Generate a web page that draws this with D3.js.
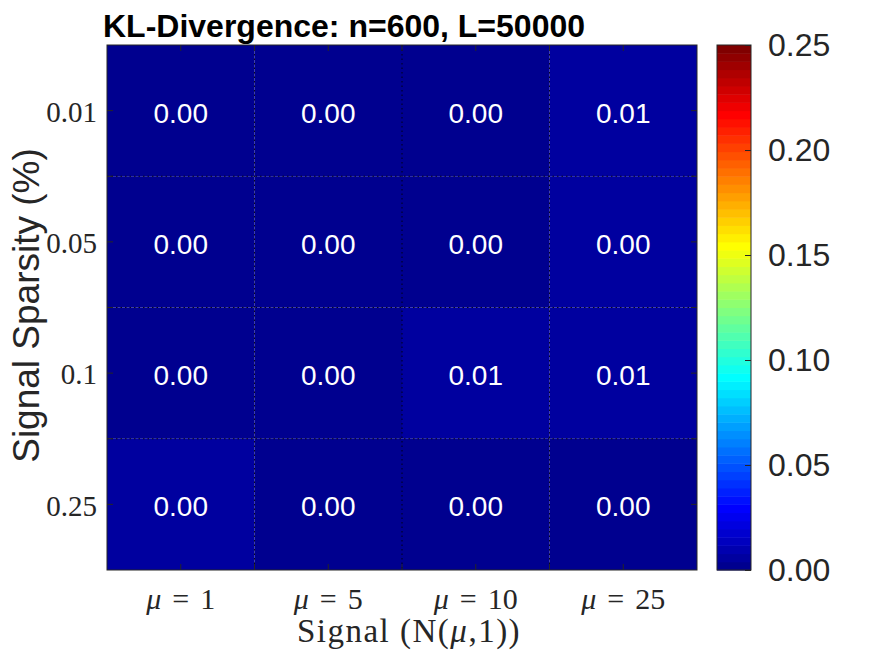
<html>
<head>
    <meta charset="utf-8">
    <style>
        body { margin: 0; background: white; }
        svg { display: block; }
    </style>
    <script src="https://d3js.org/d3.v7.min.js"></script>
</head>
<body>
<svg id="chart"></svg>
<script>
    // DATA
    let signalMu = ["1", "5", "10", "25"]
    let sparsity = ["0.01", "0.05", "0.1", "0.25"]
    // KL values per sparsity row (rows top to bottom), columns = signals
    let klRow001 = [0.002, 0.003, 0.002, 0.006]
    let klRow005 = [0.002, 0.002, 0.002, 0.004]
    let klRow01 = [0.002, 0.003, 0.007, 0.006]
    let klRow025 = [0.004, 0.002, 0.003, 0.003]
    let colorTicks = [0, 0.05, 0.10, 0.15, 0.20, 0.25]

    let rows = [klRow001, klRow005, klRow01, klRow025]
    let cells = []
    rows.forEach((r, i) => r.forEach((v, j) => cells.push({ row: sparsity[i], col: signalMu[j], value: v })))

    // MATLAB jet(64)
    function jetMap(m) {
        let n = Math.ceil(m / 4)
        let u = []
        for (let k = 1; k <= n; k++) u.push(k / n)
        for (let k = 1; k < n; k++) u.push(1)
        for (let k = n; k >= 1; k--) u.push(k / n)
        let off = Math.ceil(n / 2) - (m % 4 === 1 ? 1 : 0)
        let J = d3.range(m).map(() => [0, 0, 0])
        u.forEach((val, k) => {
            let g = off + k + 1
            let r = g + n
            let b = g - n
            if (g >= 1 && g <= m) J[g - 1][1] = val
            if (r >= 1 && r <= m) J[r - 1][0] = val
            if (b >= 1 && b <= m) J[b - 1][2] = val
        })
        return J.map(c => d3.rgb(c[0] * 255, c[1] * 255, c[2] * 255).formatHex())
    }
    let jet = jetMap(64)
    let cmin = 0, cmax = 0.25
    function colorFor(v) {
        let idx = Math.floor((v - cmin) / (cmax - cmin) * 64)
        idx = Math.max(0, Math.min(63, idx))
        return jet[idx]
    }

    let width = 875, height = 657
    let margin = { left: 107, top: 45, right: 697, bottom: 570 }
    let svg = d3.select("#chart").attr("width", width).attr("height", height)

    let x = d3.scaleBand().domain(signalMu).range([margin.left, margin.right])
    let y = d3.scaleBand().domain(sparsity).range([margin.top, margin.bottom])

    // cells
    svg.append("g").selectAll("rect")
        .data(cells)
        .enter().append("rect")
        .attr("x", d => x(d.col))
        .attr("y", d => y(d.row))
        .attr("width", x.bandwidth())
        .attr("height", y.bandwidth())
        .attr("fill", d => colorFor(d.value))

    // dotted grid at cell boundaries
    let grid = svg.append("g").attr("stroke", "#000").attr("stroke-width", 1)
        .attr("stroke-dasharray", "1.5,3").attr("opacity", 0.85)
    signalMu.slice(1).forEach(c => {
        grid.append("line").attr("x1", x(c)).attr("x2", x(c))
            .attr("y1", margin.top).attr("y2", margin.bottom)
    })
    sparsity.slice(1).forEach(r => {
        grid.append("line").attr("y1", y(r)).attr("y2", y(r))
            .attr("x1", margin.left).attr("x2", margin.right)
    })

    // cell labels
    svg.append("g").selectAll("text")
        .data(cells)
        .enter().append("text")
        .attr("x", d => x(d.col) + x.bandwidth() / 2)
        .attr("y", d => y(d.row) + y.bandwidth() / 2 + 2)
        .attr("dy", "0.36em")
        .attr("text-anchor", "middle")
        .attr("fill", "white")
        .style("font", "28px 'Liberation Sans', Arial, sans-serif")
        .text(d => d.value.toFixed(2))

    // ticks (centers and boundaries), inward
    let tk = svg.append("g").attr("stroke", "#262626").attr("stroke-width", 1)
    let xt = []
    signalMu.forEach(c => { xt.push(x(c)); xt.push(x(c) + x.bandwidth() / 2) })
    xt = xt.filter(v => v > margin.left + 1)
    xt.forEach(v => {
        tk.append("line").attr("x1", v).attr("x2", v).attr("y1", margin.bottom).attr("y2", margin.bottom - 6)
        tk.append("line").attr("x1", v).attr("x2", v).attr("y1", margin.top).attr("y2", margin.top + 6)
    })
    let yt = []
    sparsity.forEach(r => { yt.push(y(r)); yt.push(y(r) + y.bandwidth() / 2) })
    yt = yt.filter(v => v > margin.top + 1)
    yt.forEach(v => {
        tk.append("line").attr("y1", v).attr("y2", v).attr("x1", margin.left).attr("x2", margin.left + 6)
        tk.append("line").attr("y1", v).attr("y2", v).attr("x1", margin.right).attr("x2", margin.right - 6)
    })

    // axis box
    svg.append("rect")
        .attr("x", margin.left).attr("y", margin.top)
        .attr("width", margin.right - margin.left).attr("height", margin.bottom - margin.top)
        .attr("fill", "none").attr("stroke", "#262626").attr("stroke-width", 1)

    // y tick labels
    svg.append("g").selectAll("text")
        .data(sparsity)
        .enter().append("text")
        .attr("x", margin.left - 10)
        .attr("y", d => y(d) + y.bandwidth() / 2 + 1)
        .attr("dy", "0.35em")
        .attr("text-anchor", "end")
        .attr("fill", "#262626")
        .style("font", "29px 'Liberation Serif', serif")
        .text(d => d)

    // x tick labels
    let xl = svg.append("g").selectAll("text")
        .data(signalMu)
        .enter().append("text")
        .attr("x", d => x(d) + x.bandwidth() / 2)
        .attr("y", 609)
        .attr("text-anchor", "middle")
        .attr("fill", "#262626")
        .style("font", "30px 'Liberation Serif', serif")
    xl.append("tspan").style("font-style", "italic").text("μ")
    xl.append("tspan").attr("dx", 11).text("=")
    xl.append("tspan").attr("dx", 11).text(d => d)

    // x label
    let xlab = svg.append("text")
        .attr("x", 409)
        .attr("y", 642)
        .attr("text-anchor", "middle")
        .attr("fill", "#262626")
        .style("font", "33px 'Liberation Serif', serif")
        .style("letter-spacing", "1.5px")
    xlab.append("tspan").text("Signal (N(")
    xlab.append("tspan").style("font-style", "italic").text("μ")
    xlab.append("tspan").text(",1))")

    // y label
    svg.append("text")
        .attr("transform", `translate(39,${(margin.top + margin.bottom) / 2 - 2}) rotate(-90)`)
        .attr("text-anchor", "middle")
        .attr("fill", "#262626")
        .style("font", "37px 'Liberation Sans', Arial, sans-serif")
        .text("Signal Sparsity (%)")

    // title
    svg.append("text")
        .attr("x", 103)
        .attr("y", 37)
        .attr("fill", "#000")
        .style("font", "bold 32px 'Liberation Sans', Arial, sans-serif")
        .text("KL-Divergence: n=600, L=50000")

    // colorbar
    let cb = { x: 717, w: 34 }
    let cScale = d3.scaleLinear().domain([cmin, cmax]).range([margin.bottom, margin.top])
    let levels = d3.range(64)
    svg.append("g").selectAll("rect")
        .data(levels)
        .enter().append("rect")
        .attr("x", cb.x)
        .attr("width", cb.w)
        .attr("y", i => cScale(cmin + (i + 1) * (cmax - cmin) / 64))
        .attr("height", i => cScale(cmin + i * (cmax - cmin) / 64) - cScale(cmin + (i + 1) * (cmax - cmin) / 64) + 0.5)
        .attr("fill", i => jet[i])
    let cAxis = d3.axisRight(cScale).tickValues(colorTicks).tickSize(-6).tickPadding(17)
        .tickFormat(d3.format(".2f"))
    let cg = svg.append("g")
        .attr("transform", `translate(${cb.x + cb.w},0)`)
        .call(cAxis)
    cg.select(".domain").remove()
    cg.selectAll("line").attr("stroke", "#262626")
    cg.selectAll("text").attr("fill", "#262626")
        .style("font", "32px 'Liberation Sans', Arial, sans-serif")
    svg.append("rect")
        .attr("x", cb.x).attr("y", margin.top)
        .attr("width", cb.w).attr("height", margin.bottom - margin.top)
        .attr("fill", "none").attr("stroke", "#262626").attr("stroke-width", 1)
</script>
</body>
</html>
